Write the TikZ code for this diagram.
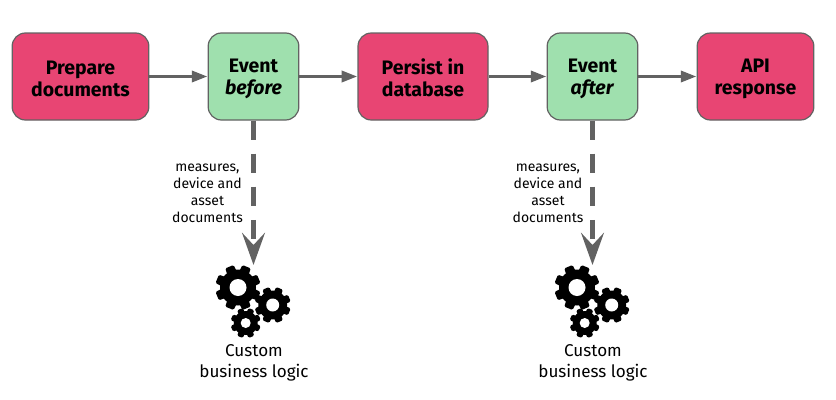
\documentclass[tikz,border=0pt]{standalone}
\usepackage{fontspec}
\setmainfont{Fira Sans}
\usetikzlibrary{arrows.meta}
\definecolor{actionred}{HTML}{E84573}
\definecolor{eventgreen}{HTML}{9FE0AE}
\definecolor{linegrey}{HTML}{626262}
\newcommand{\boxstrut}{\rule{0pt}{13.5pt}}
\tikzset{
  basebox/.style={draw=linegrey,line width=0.9pt,rounded corners=10pt,inner sep=0pt,
    align=center,font=\fontsize{14.6}{16}\selectfont\bfseries,minimum height=65.25pt},
  actionbox/.style={basebox,fill=actionred},
  eventbox/.style={basebox,fill=eventgreen},
  flow/.style={draw=linegrey,line width=1.9pt,-{Triangle[length=11.5pt,width=8.5pt]},shorten >=0.3pt},
  hook/.style={draw=linegrey,line width=4pt,dash pattern=on 14.2pt off 10.6pt,
    -{Stealth[length=24pt,width=17pt,inset=9pt]}},
  smalltext/.style={align=center,font=\fontsize{10.5}{12.8}\selectfont},
  customtext/.style={align=center,font=\fontsize{12.8}{16}\selectfont}
}
% gear: x, y, outer radius, hole radius
\newcommand{\gearwheel}[4]{
  \fill[black] (#1,#2) circle ({0.8*#3});
  \foreach \a in {0,45,...,315}{
    \fill[black,rounded corners=1pt,rotate around={\a+22.5:(#1,#2)}]
      ({#1-0.27*#3},#2) -- ({#1-0.2*#3},{#2-#3}) -- ({#1+0.2*#3},{#2-#3}) -- ({#1+0.27*#3},#2) -- cycle;
  }
  \fill[white] (#1,#2) circle (#4);
}
\begin{document}
\begin{tikzpicture}[x=0.75pt,y=-0.75pt]
\useasboundingbox (0,0) rectangle (836,400);
% top row
\node[actionbox,minimum width=102.5pt] (prepare) at (80.5,76.5) {\boxstrut Prepare\\documents};
\node[eventbox,minimum width=68pt] (before) at (253.5,76.5) {\boxstrut Event\\\textit{before}};
\node[actionbox,minimum width=97.5pt] (persist) at (423,76.5) {\boxstrut Persist in\\database};
\node[eventbox,minimum width=68pt] (after) at (592.5,76.5) {\boxstrut Event\\\textit{after}};
\node[actionbox,minimum width=87.5pt] (api) at (755.5,76.5) {\boxstrut API\\response};
\draw[flow] (prepare) -- (before);
\draw[flow] (before) -- (persist);
\draw[flow] (persist) -- (after);
\draw[flow] (after) -- (api);
% dashed arrows
\coordinate (logicA) at (253.5,265);
\coordinate (logicB) at (592.5,265);
\draw[hook] (before) -- (logicA);
\draw[hook] (after) -- (logicB);
\node[smalltext] (docsA) at (207.5,193.5) {measures,\\device and\\asset\\documents};
\node[smalltext] (docsB) at (548,193.5) {measures,\\device and\\asset\\documents};
% gears left
\gearwheel{272.7}{305}{18}{6.5}
\gearwheel{245.7}{323}{15}{5}
\gearwheel{238}{287.5}{22.5}{8.5}
% gears right
\gearwheel{611.7}{305}{18}{6.5}
\gearwheel{584.7}{323}{15}{5}
\gearwheel{577}{287.5}{22.5}{8.5}
% labels
\node[customtext] (customA) at (254,363) {Custom\\business logic};
\node[customtext] (customB) at (593,363) {Custom\\business logic};
\end{tikzpicture}
\end{document}
